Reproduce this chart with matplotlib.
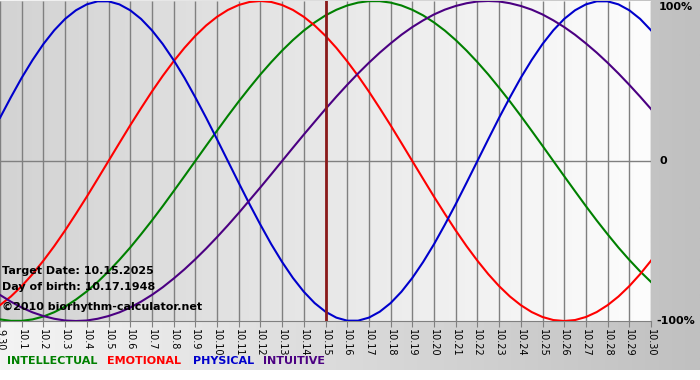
import numpy as np
import matplotlib
matplotlib.use('Agg')
import matplotlib.pyplot as plt
from matplotlib.colors import LinearSegmentedColormap

# days from 9.30 to 10.30 (index 0..30)
days = list(range(31))
day_labels = ['9.30'] + ['10.%d' % i for i in range(1, 31)]

# curve values every half day (-1 .. 1)
samples = np.arange(0, 30.5, 0.5)
physical = [0.270, 0.398, 0.520, 0.631, 0.731, 0.817, 0.888, 0.942, 0.979, 0.998, 0.998,
            0.979, 0.942, 0.888, 0.817, 0.731, 0.631, 0.520, 0.398, 0.270, 0.136, 0.0,
            -0.136, -0.270, -0.398, -0.520, -0.631, -0.731, -0.817, -0.888, -0.942, -0.979,
            -0.998, -0.998, -0.979, -0.942, -0.888, -0.817, -0.731, -0.631, -0.520, -0.398,
            -0.270, -0.136, 0.0, 0.136, 0.270, 0.398, 0.520, 0.631, 0.731, 0.817, 0.888,
            0.942, 0.979, 0.998, 0.998, 0.979, 0.942, 0.888, 0.817]
emotional = [-0.901, -0.847, -0.782, -0.707, -0.623, -0.532, -0.434, -0.330, -0.223, -0.112,
             0.0, 0.112, 0.223, 0.330, 0.434, 0.532, 0.623, 0.707, 0.782, 0.847, 0.901, 0.944,
             0.975, 0.994, 1.000, 0.994, 0.975, 0.944, 0.901, 0.847, 0.782, 0.707, 0.623,
             0.532, 0.434, 0.330, 0.223, 0.112, 0.0, -0.112, -0.223, -0.330, -0.434, -0.532,
             -0.623, -0.707, -0.782, -0.847, -0.901, -0.944, -0.975, -0.994, -1.000, -0.994,
             -0.975, -0.944, -0.901, -0.847, -0.782, -0.707, -0.623]
intellectual = [-0.990, -0.999, -0.999, -0.990, -0.972, -0.945, -0.910, -0.866, -0.815, -0.756,
                -0.690, -0.618, -0.541, -0.458, -0.372, -0.282, -0.189, -0.095, 0.0, 0.095,
                0.189, 0.282, 0.372, 0.458, 0.541, 0.618, 0.690, 0.756, 0.815, 0.866, 0.910,
                0.945, 0.972, 0.990, 0.999, 0.999, 0.990, 0.972, 0.945, 0.910, 0.866, 0.815,
                0.756, 0.690, 0.618, 0.541, 0.458, 0.372, 0.282, 0.189, 0.095, 0.0, -0.095,
                -0.189, -0.282, -0.372, -0.458, -0.541, -0.618, -0.690, -0.756]
intuitive = [-0.837, -0.879, -0.916, -0.946, -0.969, -0.986, -0.997, -1.000, -0.997, -0.986,
             -0.969, -0.946, -0.916, -0.879, -0.837, -0.789, -0.735, -0.677, -0.614, -0.547,
             -0.476, -0.402, -0.325, -0.245, -0.165, -0.083, 0.0, 0.083, 0.165, 0.245, 0.325,
             0.402, 0.476, 0.547, 0.614, 0.677, 0.735, 0.789, 0.837, 0.879, 0.916, 0.946,
             0.969, 0.986, 0.997, 1.000, 0.997, 0.986, 0.969, 0.946, 0.916, 0.879, 0.837,
             0.789, 0.735, 0.677, 0.614, 0.547, 0.476, 0.402, 0.325]
target_day = 15

series = [('INTELLECTUAL', intellectual, '#008000'),
          ('EMOTIONAL', emotional, '#ff0000'),
          ('PHYSICAL', physical, '#0000cc'),
          ('INTUITIVE', intuitive, '#4b0082')]

W, H = 700, 380
fig = plt.figure(figsize=(W / 100, H / 100), dpi=100)
fig.patch.set_facecolor('white')

# outer gradient background
bg = fig.add_axes([0, 10 / H, 1, 370 / H], zorder=-1)
bg.imshow(np.linspace(0, 1, 256)[None, :], aspect='auto', extent=[0, 1, 0, 1],
          cmap=LinearSegmentedColormap.from_list('o', ['#f4f4f4', '#c0c0c0']))
bg.axis('off')

ax = fig.add_axes([0, 59 / H, 651 / W, 320 / H])
ax.imshow(np.linspace(0, 1, 256)[None, :], aspect='auto', extent=[0, 30, -1, 1], zorder=0,
          cmap=LinearSegmentedColormap.from_list('p', ['#d3d3d3', '#fdfdfd']))
ax.set_xlim(0, 30)
ax.set_ylim(-1, 1)

ax.vlines(days, -1, 1, color='#808080', lw=1, zorder=1)
ax.axhline(0, color='#808080', lw=1, zorder=1)

for name, vals, col in series:
    ax.plot(samples, vals, color=col, lw=1.5, zorder=3, solid_joinstyle='round')

ax.axvline(target_day, color='#8b1a1a', lw=2, zorder=4)

for s in ['top', 'left', 'right']:
    ax.spines[s].set_visible(False)
ax.spines['bottom'].set_color('#808080')
ax.set_yticks([])
ax.set_xticks(days)
ax.set_xticklabels(day_labels, rotation=270, fontsize=7, family='DejaVu Sans')
ax.tick_params(axis='x', length=4, color='#808080', pad=2)

fp = dict(fontsize=8, fontweight='bold', family='DejaVu Sans')
fig.text(2 / W, 1 - 271 / H, 'Target Date: 10.15.2025', va='center', ha='left', **fp)
fig.text(2 / W, 1 - 287 / H, 'Day of birth: 10.17.1948', va='center', ha='left', **fp)
fig.text(2 / W, 1 - 307 / H, '\u00a92010 biorhythm-calculator.net', va='center', ha='left', **fp)

fig.text(659 / W, 1 - 7 / H, '100%', va='center', ha='left', **fp)
fig.text(660 / W, 1 - 161 / H, '0', va='center', ha='left', **fp)
fig.text(656 / W, 1 - 321 / H, '-100%', va='center', ha='left', **fp)

for (name, vals, col), x in zip(series, [7, 107, 193, 263]):
    fig.text(x / W, 1 - 361 / H, name, color=col, va='center', ha='left', **fp)

fig.savefig('out.png', dpi=100)
